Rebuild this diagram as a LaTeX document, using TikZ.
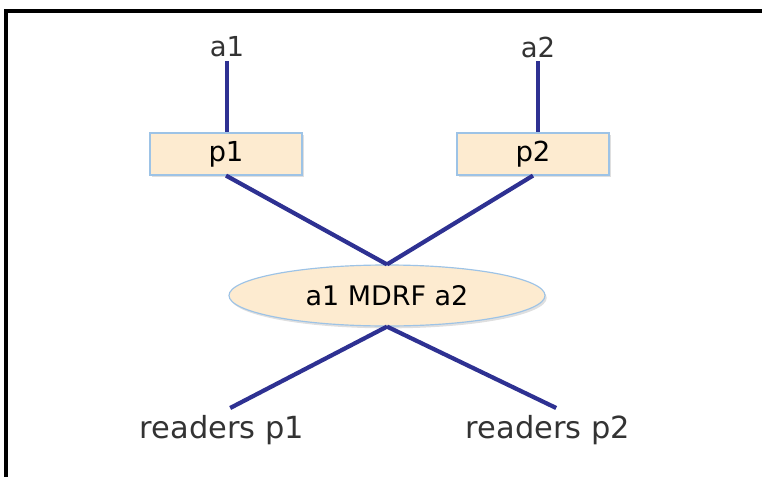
\documentclass[tikz,border=0pt]{standalone}
\usepackage{fontspec}
\setmainfont{DejaVu Sans}
\usetikzlibrary{positioning,shapes.geometric,shadows}
\definecolor{navy}{HTML}{2E3192}
\definecolor{peach}{HTML}{FDEBD0}
\definecolor{skyline}{HTML}{9DC3E6}
\definecolor{ink}{HTML}{333333}
\tikzset{
  procbox/.style={rectangle,draw=skyline,line width=1pt,fill=peach,minimum width=4.56cm,minimum height=1.26cm,inner sep=0pt,font=\fontsize{23.5}{28}\selectfont,text=black,drop shadow={opacity=0.25,shadow xshift=1.5pt,shadow yshift=-2pt}},
  relation/.style={ellipse,draw=skyline,line width=1pt,fill=peach,minimum width=9.48cm,minimum height=1.83cm,inner sep=0pt,font=\fontsize{23}{28}\selectfont,text=black,drop shadow={opacity=0.25,shadow xshift=1.5pt,shadow yshift=-2pt}},
  tag/.style={font=\fontsize{23.5}{28}\selectfont,text=ink,inner sep=3pt},
  reader/.style={font=\fontsize{26}{30}\selectfont,text=ink,inner sep=6pt},
  link/.style={navy,line width=3.6pt},
  frame/.style={black,line width=2.8pt}
}

\begin{document}
\begin{tikzpicture}[x=0.03cm,y=-0.03cm]
    \useasboundingbox (0,0) rectangle (762,477);
    % frame
    \draw[frame] (762,11) -- (6,11) -- (6,477);
    \node[tag] (a1) at (227,47) {a1};
    \node[tag] (a2) at (538,47) {a2};
    \node[procbox] (p1) at (226,154) {p1};
    \node[procbox] (p2) at (533,154) {p2};
    \node[relation] (mdrf) at (387,295.5) {a1 MDRF a2};
    \node[reader] (r1) at (222,430) {readers p1};
    \node[reader] (r2) at (548,430) {readers p2};
    \draw[link] (a1.south) -- (a1.south |- p1.north);
    \draw[link] (a2.south) -- (a2.south |- p2.north);
    \draw[link] (p1.south) -- (mdrf.north);
    \draw[link] (p2.south) -- (mdrf.north);
    \draw[link] (mdrf.south) -- ([xshift=7pt]r1.north);
    \draw[link] (mdrf.south) -- ([xshift=7pt]r2.north);
  \end{tikzpicture}
\end{document}
